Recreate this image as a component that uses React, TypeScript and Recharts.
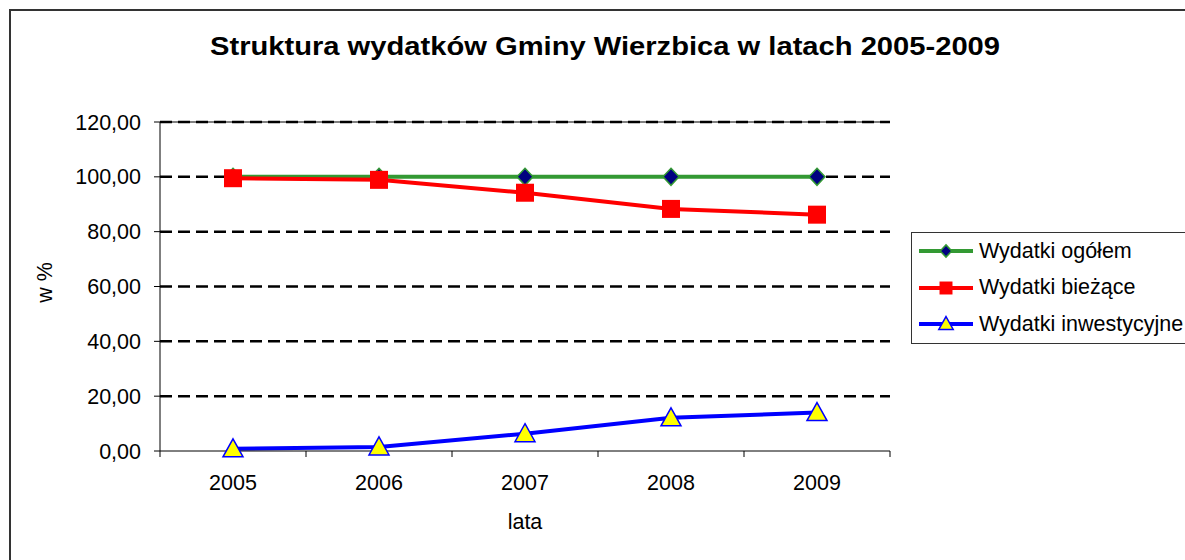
import {
  CartesianGrid,
  Legend,
  Line,
  LineChart,
  XAxis,
  YAxis,
} from "recharts";

const years = ["2005", "2006", "2007", "2008", "2009"];
const wydatkiOgolem = [100, 100, 100, 100, 100];
const wydatkiBiezace = [99.5, 98.9, 94.2, 88.3, 86.2];
const wydatkiInwestycyjne = [0.8, 1.5, 6.3, 12.1, 14.0];
const yTicks = [0, 20, 40, 60, 80, 100, 120];
const gridValues = [20, 40, 60, 80, 100, 120];

const title = "Struktura wydatków Gminy Wierzbica w latach 2005-2009";
const font = "'Liberation Sans', Arial, sans-serif";

type Shape = "diamond" | "square" | "triangle";

const series: { key: string; name: string; color: string; shape: Shape }[] = [
  { key: "ogolem", name: "Wydatki ogółem", color: "#339933", shape: "diamond" },
  { key: "biezace", name: "Wydatki bieżące", color: "#ff0000", shape: "square" },
  { key: "inwestycyjne", name: "Wydatki inwestycyjne", color: "#0000ff", shape: "triangle" },
];

const data = years.map((year, i) => ({
  year,
  ogolem: wydatkiOgolem[i],
  biezace: wydatkiBiezace[i],
  inwestycyjne: wydatkiInwestycyjne[i],
}));

// marker drawn around (cx, cy); s scales it for the legend
function marker(shape: Shape, cx: number, cy: number, s: number, key?: string | number) {
  if (shape === "diamond") {
    const w = 8 * s;
    const h = 8.5 * s;
    return (
      <polygon
        key={key}
        points={`${cx},${cy - h} ${cx + w},${cy} ${cx},${cy + h} ${cx - w},${cy}`}
        fill="#000080"
        stroke="#339933"
        strokeWidth={1.5}
      />
    );
  }
  if (shape === "square") {
    const h = 9 * s;
    return <rect key={key} x={cx - h} y={cy - h} width={2 * h} height={2 * h} fill="#ff0000" />;
  }
  const w = 10 * s;
  const h = 9 * s;
  return (
    <polygon
      key={key}
      points={`${cx},${cy - h - 1} ${cx + w},${cy + h - 1} ${cx - w},${cy + h - 1}`}
      fill="#ffff00"
      stroke="#0000ff"
      strokeWidth={1.5}
    />
  );
}

function YearTick(props: any) {
  const { x, y, payload, index, visibleTicksCount, width } = props;
  const half = payload.offset || width / visibleTicksCount / 2;
  return (
    <g>
      <line x1={x - half} x2={x - half} y1={y} y2={y + 6} stroke="#000" />
      {index === visibleTicksCount - 1 && (
        <line x1={x + half} x2={x + half} y1={y} y2={y + 6} stroke="#000" />
      )}
      <text x={x} y={y + 39} textAnchor="middle" fontSize={21.5} fill="#000" fontFamily={font}>
        {payload.value}
      </text>
    </g>
  );
}

function ChartLegend() {
  return (
    <div
      style={{
        border: "1px solid #333",
        background: "#fff",
        width: 300,
        fontFamily: font,
        fontSize: 21.5,
        color: "#000",
      }}
    >
      {series.map((s) => (
        <div key={s.key} style={{ display: "flex", alignItems: "center", height: 36.5 }}>
          <svg width={56} height={24} style={{ marginLeft: 6, marginRight: 5 }}>
            <line x1={1} x2={55} y1={12} y2={12} stroke={s.color} strokeWidth={4} />
            {marker(s.shape, 28, 12, 0.72)}
          </svg>
          <span>{s.name}</span>
        </div>
      ))}
    </div>
  );
}

export default function App() {
  return (
    <div
      style={{
        position: "fixed",
        left: 0,
        top: 0,
        width: 1185,
        height: 560,
        overflow: "hidden",
        background: "#fff",
      }}
    >
      <div
        style={{
          position: "absolute",
          left: 9,
          top: 9,
          width: 1300,
          height: 700,
          border: "2px solid #333",
        }}
      />
      <svg style={{ position: "absolute", left: 0, top: 0 }} width={1185} height={560}>
        <text
          x={605}
          y={55}
          textAnchor="middle"
          fontSize={26}
          fontWeight="bold"
          fontFamily={font}
          textLength={790}
          lengthAdjust="spacingAndGlyphs"
        >
          {title}
        </text>
      </svg>
      <div style={{ position: "absolute", left: 0, top: 0 }}>
        <LineChart
          width={1185}
          height={560}
          data={data}
          margin={{ top: 122, right: 295, bottom: 49, left: 60 }}
        >
          <CartesianGrid
            horizontal
            vertical={false}
            horizontalValues={[120]}
            stroke="#808080"
            strokeWidth={2}
          />
          <CartesianGrid
            horizontal
            vertical={false}
            horizontalValues={gridValues}
            stroke="#000"
            strokeWidth={2.5}
            strokeDasharray="12 6"
          />
          <XAxis
            dataKey="year"
            scale="band"
            height={60}
            axisLine={{ stroke: "#000" }}
            tickLine={false}
            tickSize={0}
            tickMargin={0}
            interval={0}
            tick={<YearTick />}
            label={{
              content: ({ viewBox }: any) => (
                <text
                  x={viewBox.x + viewBox.width / 2}
                  y={viewBox.y + 78}
                  textAnchor="middle"
                  fontSize={21.5}
                  fontFamily={font}
                  fill="#000"
                >
                  lata
                </text>
              ),
            }}
          />
          <YAxis
            width={100}
            domain={[0, 120]}
            ticks={yTicks}
            interval={0}
            tickSize={6}
            tickMargin={13}
            axisLine={{ stroke: "#000" }}
            tickLine={{ stroke: "#000" }}
            tick={{ fontSize: 21.5, fill: "#000", fontFamily: font }}
            tickFormatter={(v: number) => v.toFixed(2).replace(".", ",")}
            label={{
              content: ({ viewBox }: any) => (
                <text
                  transform={`translate(${viewBox.x - 8}, ${viewBox.y + viewBox.height / 2 - 4}) rotate(-90)`}
                  textAnchor="middle"
                  fontSize={21.5}
                  fontFamily={font}
                  fill="#000"
                >
                  w %
                </text>
              ),
            }}
          />
          <YAxis
            yAxisId="right"
            orientation="right"
            width={0}
            domain={[0, 120]}
            tick={false}
            tickLine={false}
            axisLine={{ stroke: "#808080", strokeWidth: 2 }}
          />
          <Legend
            layout="vertical"
            align="center"
            verticalAlign="middle"
            wrapperStyle={{ left: 911, top: 232, width: 300 }}
            content={<ChartLegend />}
          />
          {series.map((s) => (
            <Line
              key={s.key}
              type="linear"
              dataKey={s.key}
              name={s.name}
              stroke={s.color}
              strokeWidth={4}
              isAnimationActive={false}
              activeDot={false}
              dot={(p: any) => marker(s.shape, p.cx, p.cy, 1, `${s.key}-${p.index}`)}
            />
          ))}
        </LineChart>
      </div>
    </div>
  );
}
